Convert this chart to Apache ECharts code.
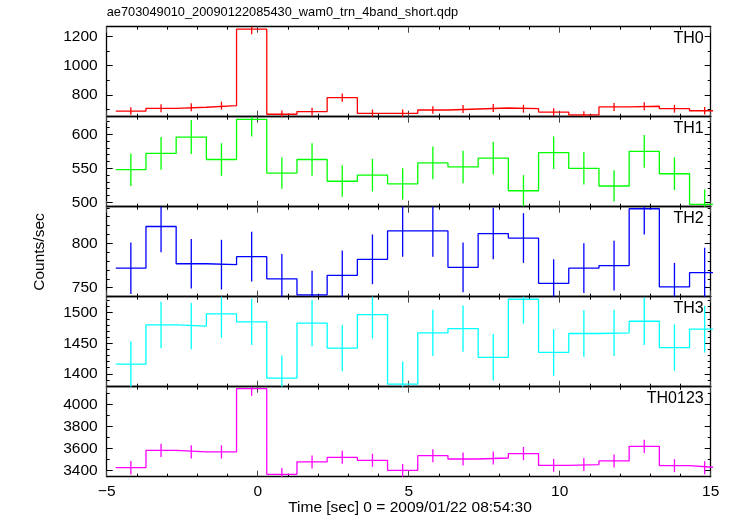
<!DOCTYPE html>
<html><head><meta charset="utf-8">
<script src="https://cdn.jsdelivr.net/npm/echarts@6/dist/echarts.min.js"></script>
<style>html,body{margin:0;padding:0;background:#fff}#c{width:733px;height:516px}</style>
</head><body><div id="c"></div>
<script>
// ---- data ----
const binCenters = [-4.2,-3.2,-2.2,-1.2,-0.2,0.8,1.8,2.8,3.8,4.8,5.8,6.8,7.8,8.8,9.8,10.8,11.8,12.8,13.8,14.8];
const binWidth = 1.0;
const panelNames = ['TH0','TH1','TH2','TH3','TH0123'];
const th0     = [688,707,714,725,1252,666,684,780,672,672,695,702,709,704,681,661,716,721,704,690];
const th0Err  = [26,27,27,27,35,26,26,28,26,26,26,27,27,27,26,26,27,27,27,26];
const th1     = [548,572,596,563,622,543,563,531,540,527,558,552,565,517,573,550,524,575,542,497];
const th1Err  = [24,24,25,24,25,23,24,23,24,23,24,24,24,23,24,24,23,24,24,22];
const th2     = [772,819,777,776,785,760,742,764,782,814,814,773,811,806,755,772,775,839,751,767];
const th2Err  = [29,29,28,28,28,28,27,28,28,29,29,28,29,28,27,28,28,29,27,28];
const th3     = [1416,1480,1478,1498,1485,1393,1483,1442,1497,1383,1467,1474,1427,1522,1435,1466,1467,1486,1443,1473];
const th3Err  = [37,38,38,39,38,37,38,38,39,37,38,38,38,40,38,38,38,39,38,38];
const th0123    = [3424,3582,3567,3567,4142,3364,3476,3518,3491,3400,3533,3503,3512,3552,3445,3452,3485,3618,3442,3424];
const th0123Err = [61,60,60,60,64,58,59,59,59,58,59,59,59,60,59,59,59,60,59,59];
const yMins = [649, 493.5, 739.9, 1378.9, 3342];
const yMaxs = [1269, 626, 841.3, 1526.2, 4160];
const yMajor = [[800,1000,1200],[500,550,600],[750,800],[1400,1450,1500],[3400,3600,3800,4000]];
const yMinor = [[700,900,1100],
  [510,520,530,540,560,570,580,590,610,620],
  [740,760,770,780,790,810,820,830,840],
  [1380,1390,1410,1420,1430,1440,1460,1470,1480,1490,1510,1520],
  [3500,3700,3900,4100]];
const xTickLabels = [-5,0,5,10,15];
const colors = ['#ff0000','#00ff00','#0000ff','#00ffff','#ff00ff'];
const values = [th0,th1,th2,th3,th0123];
const errors = [th0Err,th1Err,th2Err,th3Err,th0123Err];

// ---- layout ----
const FONT = "'Liberation Sans', Helvetica, Arial, sans-serif";
const plotLeft = 106.7, plotRight = 710.7, plotTop = 26.7, panelH = 90;
const W = 733;

const grids = [], xAxes = [], yAxes = [], series = [], graphics = [];
for (let p = 0; p < 5; p++) {
  grids.push({left: plotLeft, width: plotRight - plotLeft, top: plotTop + p*panelH, height: panelH, containLabel: false});
  const isBottom = p === 4;
  ['bottom','top'].forEach(pos => {
    xAxes.push({
      gridIndex: p, type: 'value', min: -5, max: 15, interval: 5, position: pos,
      axisLine: {show: true, onZero: false, lineStyle: {color: '#000', width: 1.3}},
      axisTick: {show: true, inside: true, length: 6, lineStyle: {color: '#444', width: 1}},
      minorTick: {show: true, splitNumber: 5, length: 3, lineStyle: {color: '#000', width: 1}},
      axisLabel: {show: isBottom && pos === 'bottom', fontFamily: FONT, fontSize: 15.5, color: '#000', margin: 7,
        formatter: v => (v < 0 ? '\u2212' + Math.abs(v) : String(v))},
      splitLine: {show: false}
    });
  });
  ['left','right'].forEach(pos => {
    yAxes.push({
      gridIndex: p, type: 'value', min: yMins[p], max: yMaxs[p], position: pos,
      axisLine: {show: true, onZero: false, lineStyle: {color: '#000', width: 1.3}},
      axisTick: {show: true, inside: true, length: 6, customValues: yMajor[p], lineStyle: {color: '#000', width: 1}},
      axisLabel: {show: pos === 'left', customValues: yMajor[p], fontFamily: FONT, fontSize: 15.5, color: '#000', margin: 9,
        formatter: v => String(v)},
      splitLine: {show: false}
    });
    yAxes.push({
      gridIndex: p, type: 'value', min: yMins[p], max: yMaxs[p], position: pos,
      axisLine: {show: false, onZero: false},
      axisTick: {show: true, inside: true, length: 3, customValues: yMinor[p], lineStyle: {color: '#000', width: 1}},
      axisLabel: {show: false},
      splitLine: {show: false}
    });
  });
  const xi = p*2, yi = p*4;
  const stepData = [];
  binCenters.forEach((c, i) => {
    stepData.push([c - binWidth/2, values[p][i]]);
    stepData.push([c + binWidth/2, values[p][i]]);
  });
  series.push({
    type: 'line', xAxisIndex: xi, yAxisIndex: yi, data: stepData, showSymbol: false, symbol: 'none',
    lineStyle: {color: colors[p], width: 1.3}, clip: true, silent: true, animation: false
  });
  const errData = binCenters.map((c, i) => [c, values[p][i], errors[p][i]]);
  series.push({
    type: 'custom', xAxisIndex: xi, yAxisIndex: yi, data: errData, silent: true, animation: false,
    renderItem: (function(pp){ return function(params, api) {
      const x = api.value(0), v = api.value(1), e = api.value(2);
      const lo = Math.max(v - e, yMins[pp]), hi = Math.min(v + e, yMaxs[pp]);
      const a = api.coord([x, lo]), b = api.coord([x, hi]);
      return {type: 'line', shape: {x1: a[0], y1: a[1], x2: b[0], y2: b[1]},
              style: {stroke: colors[pp], lineWidth: 1.3}};
    };})(p)
  });
  graphics.push({type: 'text', right: W - plotRight + 7, top: plotTop + p*panelH + 4,
    style: {text: panelNames[p], font: '16px ' + FONT, fill: '#000'}});
}
graphics.push({type: 'text', left: plotLeft, top: 6,
  style: {text: 'ae703049010_20090122085430_wam0_trn_4band_short.qdp', font: '12.8px ' + FONT, fill: '#000'}});
graphics.push({type: 'text', x: 410, y: 508,
  style: {text: 'Time [sec] 0 = 2009/01/22 08:54:30', font: '15.5px ' + FONT, fill: '#000', align: 'center', verticalAlign: 'middle'}});
graphics.push({type: 'text', x: 40, y: 252, rotation: Math.PI/2,
  style: {text: 'Counts/sec', font: '15.5px ' + FONT, fill: '#000', align: 'center', verticalAlign: 'middle'}});

const chart = echarts.init(document.getElementById('c'), null, {renderer: 'canvas'});
chart.setOption({
  animation: false, backgroundColor: '#fff',
  grid: grids, xAxis: xAxes, yAxis: yAxes, series: series, graphic: graphics
});
</script></body></html>
